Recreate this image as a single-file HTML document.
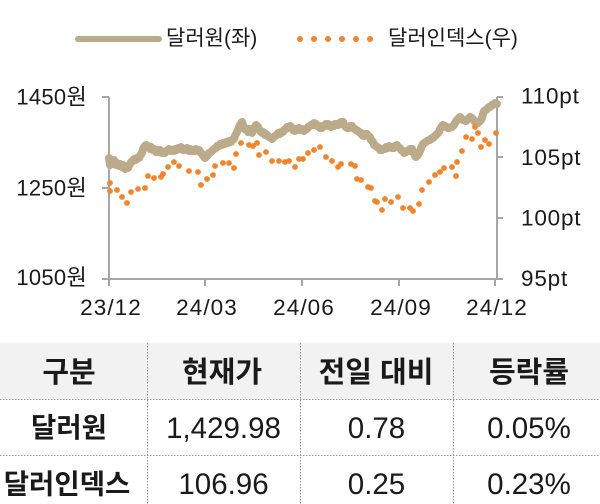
<!DOCTYPE html>
<html><head><meta charset="utf-8"><style>
html,body{margin:0;padding:0;background:#fff;}
svg{display:block;}
text{font-family:"Liberation Sans","Noto Sans CJK KR",sans-serif;fill:#1a1a1a;}
</style></head><body>
<svg width="600" height="504" viewBox="0 0 600 504" xmlns="http://www.w3.org/2000/svg">
<!-- legend -->
<line x1="78" y1="39" x2="159" y2="39" stroke="#BCAB8B" stroke-width="6" stroke-linecap="round"/>
<text x="166" y="45" font-size="21">달러원(좌)</text>
<g fill="#F0852D">
<circle cx="300" cy="39" r="3"/><circle cx="314" cy="39" r="3"/><circle cx="328" cy="39" r="3"/><circle cx="342" cy="39" r="3"/><circle cx="356" cy="39" r="3"/><circle cx="370" cy="39" r="3"/>
</g>
<text x="388" y="45" font-size="21">달러인덱스(우)</text>

<!-- axes -->
<g stroke="#A6A6A6" stroke-width="2" fill="none">
<line x1="109" y1="97" x2="109" y2="280"/>
<line x1="108" y1="279" x2="498" y2="279"/>
<line x1="497" y1="97" x2="497" y2="280"/>
<line x1="102" y1="97" x2="109" y2="97"/>
<line x1="102" y1="188" x2="109" y2="188"/>
<line x1="102" y1="279" x2="109" y2="279"/>
<line x1="497" y1="97" x2="503" y2="97"/>
<line x1="497" y1="157" x2="503" y2="157"/>
<line x1="497" y1="218" x2="503" y2="218"/>
<line x1="497" y1="279" x2="503" y2="279"/>
<line x1="109" y1="279" x2="109" y2="286"/>
<line x1="205" y1="279" x2="205" y2="286"/>
<line x1="302" y1="279" x2="302" y2="286"/>
<line x1="399" y1="279" x2="399" y2="286"/>
<line x1="495" y1="279" x2="495" y2="286"/>
</g>

<!-- tick labels -->
<g font-size="22" text-anchor="end" letter-spacing="0.3">
<text x="87" y="104.5">1450원</text>
<text x="87" y="195.5">1250원</text>
<text x="87" y="285">1050원</text>
</g>
<g font-size="22.5" letter-spacing="0.8">
<text x="521" y="103.5">110pt</text>
<text x="521" y="165">105pt</text>
<text x="521" y="225.5">100pt</text>
<text x="521" y="286">95pt</text>
</g>
<g font-size="22.5" letter-spacing="1.1" text-anchor="middle">
<text x="111" y="315">23/12</text>
<text x="207" y="315">24/03</text>
<text x="304" y="315">24/06</text>
<text x="401" y="315">24/09</text>
<text x="497" y="315">24/12</text>
</g>

<!-- dollar-won line -->
<polyline fill="none" stroke="#BCAB8B" stroke-width="8" stroke-linejoin="round" stroke-linecap="round" points="
109,158 110,165 111,161 113,164 114,160 116,165 117,163 119,166 120,164 122,167 123,165 125,169 126,167 128,168 130,164 131,162 133,161 134,159 136,160 137,158 139,158 140,156 142,153 143,149 144,147 146,145 147,147 148,146 150,149 151,147 153,150 154,149 156,152 157,150 159,152 160,150 162,153 163,152 165,153 166,151 168,151 169,149 171,151 172,150 174,151 175,149 177,150 178,148 180,149 181,147 183,150 184,149 186,150 187,148 189,151 190,149 192,151 193,150 195,151 196,149 198,151 199,150 201,153 202,154 204,157 205,158 206,157 208,155 209,153 211,152 213,150 214,149 216,148 217,146 219,146 220,144 222,145 223,143 225,144 226,142 228,143 229,141 231,142 232,140 234,139 235,136 236,134 238,130 239,127 240,125 242,122 243,125 244,128 246,130 247,129 248,132 250,129 251,131 252,133 254,128 255,127 256,125 258,127 259,129 260,131 262,133 263,132 265,135 266,134 268,136 269,137 271,138 272,139 274,137 275,136 277,135 278,133 280,134 281,132 283,132 284,130 286,129 287,127 289,127 290,126 292,128 293,130 295,131 296,129 298,130 299,128 301,130 302,129 304,131 305,130 307,129 308,127 310,126 311,125 313,125 314,123 316,124 317,126 319,126 320,128 322,128 323,126 325,126 326,124 328,124 329,126 331,127 332,125 334,126 335,124 337,124 338,125 340,124 341,122 343,122 344,125 346,127 347,128 349,128 350,126 352,126 353,128 355,129 356,130 358,131 359,132 361,133 362,135 364,136 365,134 367,134 368,136 370,137 371,140 373,142 374,145 376,146 377,147 379,148 380,150 382,150 383,149 385,149 386,147 388,148 389,146 391,147 392,148 394,148 395,146 397,145 398,147 400,148 401,150 403,151 404,153 406,152 407,151 409,151 410,149 412,149 413,152 414,153 415,156 416,157 417,156 418,155 419,153 420,151 421,148 422,146 423,144 424,143 426,142 427,141 429,140 430,140 432,138 433,138 435,136 436,135 438,133 439,132 440,129 441,128 442,126 443,125 445,126 446,127 448,128 449,128 451,127 452,127 454,125 455,123 457,120 458,119 460,117 461,118 463,120 464,120 466,121 467,120 469,118 470,117 472,118 473,119 475,122 476,123 478,123 479,122 481,120 482,118 483,114 484,111 486,110 487,109 489,107 490,107 492,105 493,105 495,103 496,104 497,104"/>

<!-- dollar index dots -->
<g fill="#F0852D">
<circle cx="110" cy="183" r="2.9"/><circle cx="110" cy="191" r="2.9"/><circle cx="117" cy="190" r="2.9"/><circle cx="122" cy="197" r="2.9"/><circle cx="127" cy="203" r="2.9"/><circle cx="131" cy="192" r="2.9"/><circle cx="138" cy="189" r="2.9"/><circle cx="145" cy="188" r="2.9"/><circle cx="148" cy="176" r="2.9"/><circle cx="154" cy="178" r="2.9"/><circle cx="161" cy="177" r="2.9"/><circle cx="163" cy="174" r="2.9"/><circle cx="168" cy="167" r="2.9"/><circle cx="174" cy="162" r="2.9"/><circle cx="179" cy="166" r="2.9"/><circle cx="189" cy="171" r="2.9"/><circle cx="198" cy="172" r="2.9"/><circle cx="201" cy="185" r="2.9"/><circle cx="207" cy="179" r="2.9"/><circle cx="213" cy="175" r="2.9"/><circle cx="215" cy="166" r="2.9"/><circle cx="223" cy="163" r="2.9"/><circle cx="229" cy="163" r="2.9"/><circle cx="234" cy="168" r="2.9"/><circle cx="236" cy="154" r="2.9"/><circle cx="241" cy="143" r="2.9"/><circle cx="249" cy="145" r="2.9"/><circle cx="253" cy="146" r="2.9"/><circle cx="257" cy="143" r="2.9"/><circle cx="259" cy="155" r="2.9"/><circle cx="266" cy="152" r="2.9"/><circle cx="272" cy="161" r="2.9"/><circle cx="279" cy="161" r="2.9"/><circle cx="285" cy="162" r="2.9"/><circle cx="289" cy="161" r="2.9"/><circle cx="295" cy="167" r="2.9"/><circle cx="299" cy="159" r="2.9"/><circle cx="303" cy="159" r="2.9"/><circle cx="308" cy="153" r="2.9"/><circle cx="314" cy="150" r="2.9"/><circle cx="320" cy="147" r="2.9"/><circle cx="326" cy="157" r="2.9"/><circle cx="332" cy="161" r="2.9"/><circle cx="338" cy="167" r="2.9"/><circle cx="341" cy="164" r="2.9"/><circle cx="351" cy="164" r="2.9"/><circle cx="355" cy="166" r="2.9"/><circle cx="357" cy="179" r="2.9"/><circle cx="361" cy="180" r="2.9"/><circle cx="368" cy="187" r="2.9"/><circle cx="371" cy="188" r="2.9"/><circle cx="375" cy="201" r="2.9"/><circle cx="377" cy="202" r="2.9"/><circle cx="382" cy="210" r="2.9"/><circle cx="385" cy="199" r="2.9"/><circle cx="391" cy="202" r="2.9"/><circle cx="398" cy="197" r="2.9"/><circle cx="403" cy="208" r="2.9"/><circle cx="410" cy="208" r="2.9"/><circle cx="413" cy="211" r="2.9"/><circle cx="419" cy="204" r="2.9"/><circle cx="422" cy="190" r="2.9"/><circle cx="429" cy="182" r="2.9"/><circle cx="435" cy="175" r="2.9"/><circle cx="440" cy="172" r="2.9"/><circle cx="444" cy="168" r="2.9"/><circle cx="452" cy="167" r="2.9"/><circle cx="456" cy="176" r="2.9"/><circle cx="457" cy="162" r="2.9"/><circle cx="462" cy="151" r="2.9"/><circle cx="466" cy="137" r="2.9"/><circle cx="472" cy="139" r="2.9"/><circle cx="475" cy="127" r="2.9"/><circle cx="478" cy="133" r="2.9"/><circle cx="481" cy="147" r="2.9"/><circle cx="485" cy="140" r="2.9"/><circle cx="489" cy="144" r="2.9"/><circle cx="496" cy="133" r="2.9"/>
</g>

<!-- table -->
<rect x="0" y="343" width="600" height="56" fill="#F2F2F2"/>
<g stroke="#9A9A9A" stroke-width="1" stroke-dasharray="1.5,1.5" fill="none">
<line x1="0" y1="399.5" x2="600" y2="399.5"/>
<line x1="0" y1="455.5" x2="600" y2="455.5"/>
<line x1="147.5" y1="343" x2="147.5" y2="504"/>
<line x1="300.5" y1="343" x2="300.5" y2="504"/>
<line x1="453.5" y1="343" x2="453.5" y2="504"/>
</g>
<g font-size="29" font-weight="bold" text-anchor="middle">
<text x="69" y="382">구분</text>
<text x="222" y="382">현재가</text>
<text x="376" y="382">전일 대비</text>
<text x="529" y="382">등락률</text>
</g>
<g font-size="27.5" font-weight="bold" text-anchor="middle">
<text x="69" y="437">달러원</text>
<text x="67" y="493.5">달러인덱스</text>
</g>
<g font-size="29.5" text-anchor="middle">
<text x="223.5" y="438">1,429.98</text>
<text x="376.5" y="438">0.78</text>
<text x="529" y="438">0.05%</text>
<text x="223.5" y="494">106.96</text>
<text x="376.5" y="494">0.25</text>
<text x="529" y="494">0.23%</text>
</g>
</svg>
</body></html>
